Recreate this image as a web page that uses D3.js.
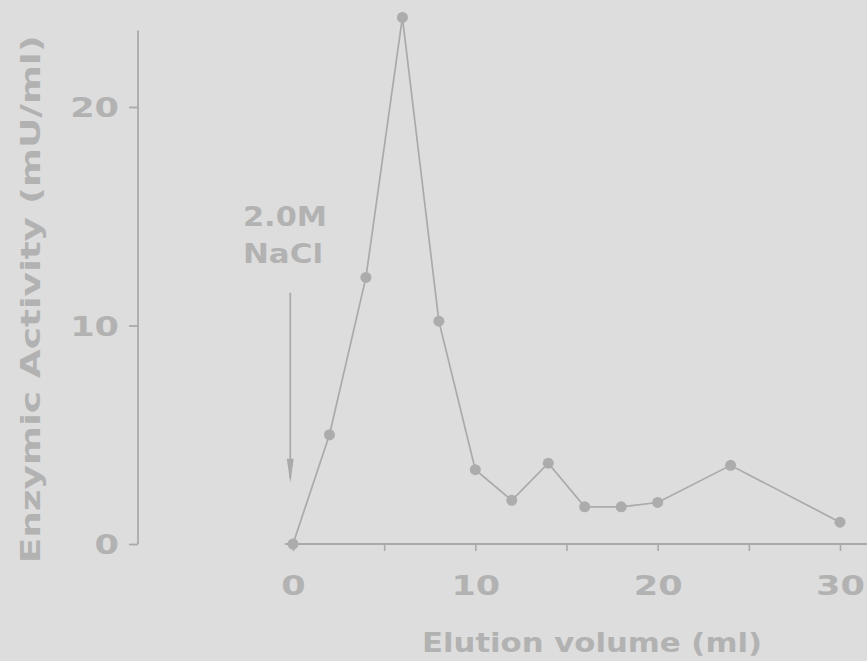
<!DOCTYPE html>
<html>
<head>
<meta charset="utf-8">
<script src="https://cdn.jsdelivr.net/npm/d3@7"></script>
<style>
  html, body { margin: 0; padding: 0; background: #dddddd; }
  svg { display: block; }
  text { font-family: "DejaVu Sans", sans-serif; font-weight: bold; fill: #b2b2b2; }
</style>
</head>
<body>
<script>
// Elution profile: enzymic activity per fraction
const elutionVolume = [0, 2, 4, 6, 8, 10, 12, 14, 16, 18, 20, 24, 30];
const activity      = [0, 5.0, 12.2, 24.1, 10.2, 3.4, 2.0, 3.7, 1.7, 1.7, 1.9, 3.6, 1.0];

const xTicks = [0, 5, 10, 15, 20, 25, 30];
const xTickLabels = ["0", "", "10", "", "20", "", "30"];
const yTicks = [0, 10, 20];
const yTickLabels = ["0", "10", "20"];

// axis line extents (data units)
const xAxisExtent = [-0.45, 31.5];
const yAxisTop = 23.5;

// salt step marker
const saltLabel = ["2.0M", "NaCl"];
const saltArrow = { at: -0.15, from: 11.5, to: 2.8 };

const W = 867, H = 661;
const ink = "#aaaaaa";

const svg = d3.select("body").append("svg").attr("width", W).attr("height", H);
svg.append("rect").attr("width", W).attr("height", H).attr("fill", "#dddddd");

const x = d3.scaleLinear().domain([0, 30]).range([293, 840]);
const y = d3.scaleLinear().domain([0, 20]).range([544, 107]);
const yAxisX = 138;

// y axis
const gy = svg.append("g").attr("transform", `translate(${yAxisX},0)`)
  .call(d3.axisLeft(y).tickValues(yTicks).tickSize(9).tickPadding(10)
    .tickFormat((d, i) => yTickLabels[i]));
gy.select(".domain").remove();
gy.append("line").attr("x1", 0).attr("x2", 0)
  .attr("y1", y(0)).attr("y2", y(yAxisTop))
  .attr("stroke", ink).attr("stroke-width", 1.8);
gy.selectAll(".tick line").attr("stroke", ink).attr("stroke-width", 1.8);
gy.selectAll(".tick text")
  .attr("font-size", 27).attr("fill", "#b2b2b2")
  .attr("font-family", "DejaVu Sans").attr("font-weight", "bold")
  .attr("dy", "0.36em")
  .each(function () {
    const t = d3.select(this);
    const px = +t.attr("x");
    t.attr("x", px / 1.3).attr("transform", "scale(1.3,1)");
  });

// x axis
const gx = svg.append("g").attr("transform", `translate(0,${y(0)})`)
  .call(d3.axisBottom(x).tickValues(xTicks).tickSize(7).tickPadding(25)
    .tickFormat((d, i) => xTickLabels[i]));
gx.select(".domain").remove();
gx.append("line").attr("x1", x(xAxisExtent[0])).attr("x2", x(xAxisExtent[1]))
  .attr("y1", 0).attr("y2", 0)
  .attr("stroke", ink).attr("stroke-width", 1.8);
gx.selectAll(".tick line").attr("stroke", ink).attr("stroke-width", 1.6);
gx.selectAll(".tick text")
  .attr("font-size", 27).attr("fill", "#b2b2b2")
  .attr("font-family", "DejaVu Sans").attr("font-weight", "bold")
  .attr("transform", "scale(1.3,1)");

// axis titles
svg.append("text")
  .attr("transform", `translate(40,${(y(0) + y(yAxisTop)) / 2 + 12}) rotate(-90)`)
  .attr("text-anchor", "middle")
  .attr("font-size", 26)
  .attr("textLength", 528).attr("lengthAdjust", "spacingAndGlyphs")
  .text("Enzymic Activity (mU/ml)");

svg.append("text")
  .attr("x", 592).attr("y", 652)
  .attr("text-anchor", "middle")
  .attr("font-size", 26)
  .attr("textLength", 340).attr("lengthAdjust", "spacingAndGlyphs")
  .text("Elution volume (ml)");

// salt step label and arrow
svg.selectAll("text.salt").data(saltLabel).join("text")
  .attr("class", "salt")
  .attr("x", 243).attr("y", (d, i) => 226 + i * 37)
  .attr("font-size", 26)
  .attr("textLength", (d, i) => i === 0 ? 84 : 80)
  .attr("lengthAdjust", "spacingAndGlyphs")
  .text(d => d);

const ax = x(saltArrow.at);
svg.append("line")
  .attr("x1", ax).attr("x2", ax)
  .attr("y1", y(saltArrow.from)).attr("y2", y(saltArrow.to) - 4)
  .attr("stroke", ink).attr("stroke-width", 1.8);
svg.append("path")
  .attr("d", `M${ax - 3.5},${y(saltArrow.to) - 24} L${ax + 3.5},${y(saltArrow.to) - 24} L${ax},${y(saltArrow.to)} Z`)
  .attr("fill", ink);

// profile line and points
const pts = elutionVolume.map((v, i) => [v, activity[i]]);
svg.append("path")
  .datum(pts)
  .attr("fill", "none").attr("stroke", ink).attr("stroke-width", 1.7)
  .attr("d", d3.line().x(d => x(d[0])).y(d => y(d[1])));

svg.selectAll("circle.pt").data(pts).join("circle")
  .attr("class", "pt")
  .attr("cx", d => x(d[0])).attr("cy", d => y(d[1]))
  .attr("r", 5.5).attr("fill", "#acacac");
</script>
</body>
</html>
